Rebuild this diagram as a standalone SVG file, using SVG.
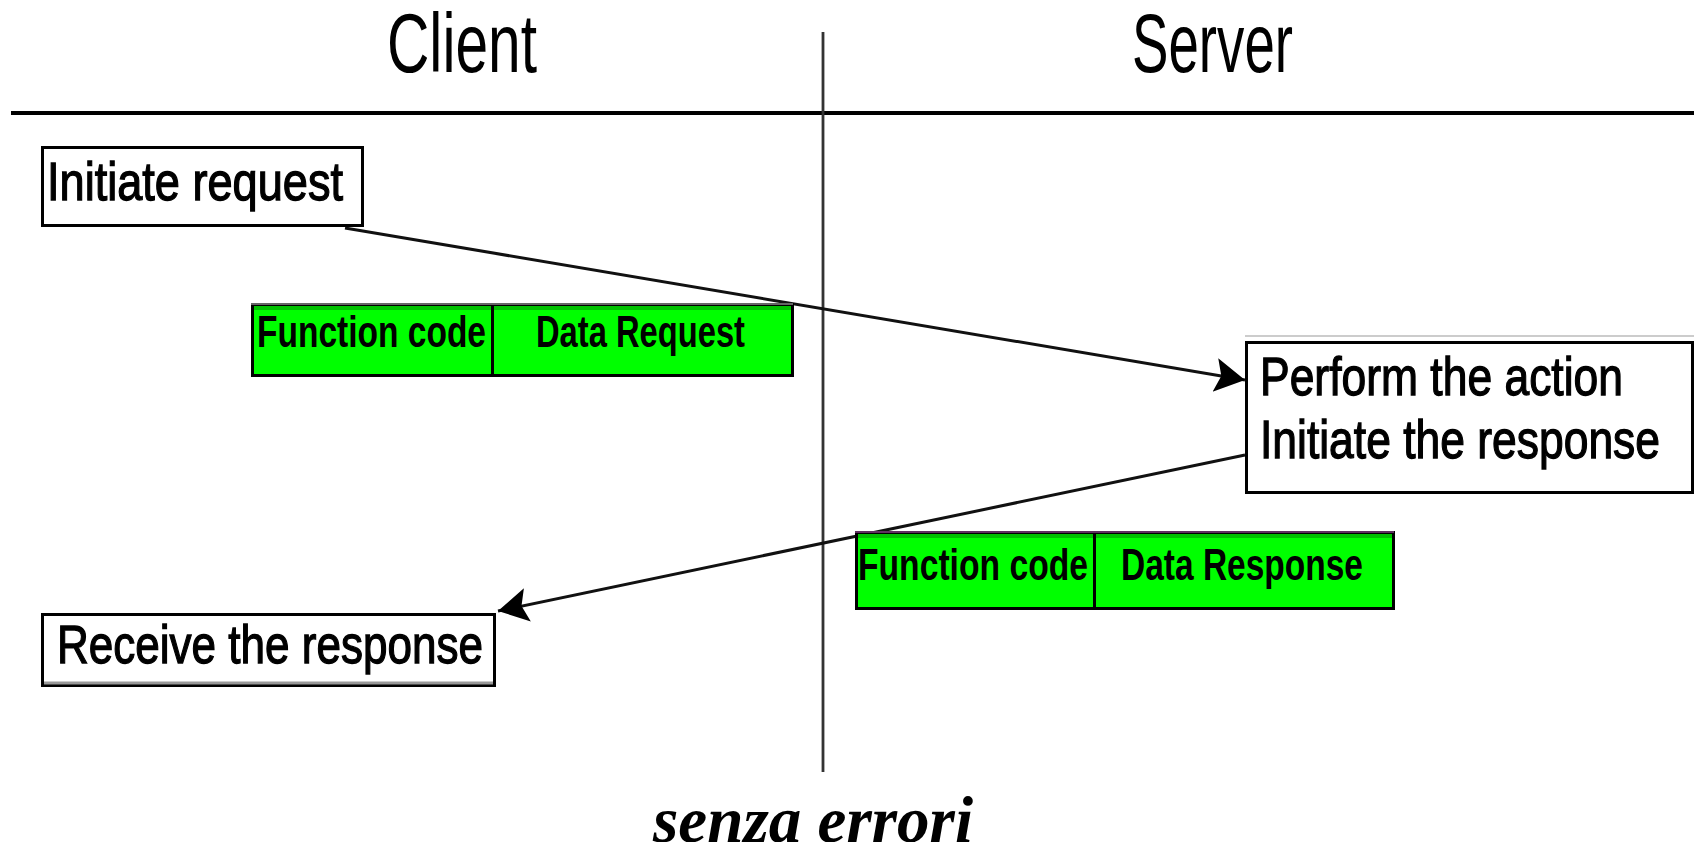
<svg xmlns="http://www.w3.org/2000/svg" width="1694" height="842" viewBox="0 0 1694 842">
<style>
  .lbl { font-family: "Liberation Sans", Arial, sans-serif; fill: #000; }
  .head { font-size: 84px; }
  .box { fill: #fff; stroke: #000; stroke-width: 3; }
  .boxtxt { font-size: 54px; stroke: #000; stroke-width: 1.3; }
  .green { fill: #00ff00; stroke: #000; stroke-width: 3; }
  .gtxt { font-size: 45px; font-weight: bold; }
  .conn { stroke: #111; stroke-width: 3; fill: none; }
</style>
<defs>
  <marker id="arrow" markerUnits="userSpaceOnUse" markerWidth="34" markerHeight="36" refX="30" refY="17" orient="auto">
    <path d="M0,0 L30,17 L0,34 L6,17 Z" fill="#000"/>
  </marker>
</defs>
<rect width="1694" height="842" fill="#fff"/>

<g id="lanes">
  <line x1="11" y1="113" x2="1694" y2="113" stroke="#000" stroke-width="4"/>
  <line x1="823" y1="32" x2="823" y2="772" stroke="#333" stroke-width="2.8"/>
  <text class="lbl head" x="387" y="72" textLength="150" lengthAdjust="spacingAndGlyphs">Client</text>
  <text class="lbl head" x="1132" y="72" textLength="161" lengthAdjust="spacingAndGlyphs">Server</text>
</g>

<g id="connectors">
  <line class="conn" x1="345" y1="228" x2="1245" y2="380" marker-end="url(#arrow)"/>
  <line class="conn" x1="1245" y1="455" x2="498" y2="611" marker-end="url(#arrow)"/>
</g>

<g id="initiate-request">
  <rect class="box" x="42.5" y="147.5" width="320" height="78"/>
  <text class="lbl boxtxt" x="47" y="200" font-size="52" textLength="296" lengthAdjust="spacingAndGlyphs">Initiate request</text>
</g>

<g id="request-pdu">
  <rect class="green" x="252.5" y="304.5" width="540" height="71"/>
  <rect x="254" y="306" width="537" height="4" fill="#00c000"/>
  <line x1="251" y1="304" x2="793" y2="304" stroke="#666" stroke-width="2"/>
  <line x1="492.5" y1="306" x2="492.5" y2="376" stroke="#000" stroke-width="3"/>
  <text class="lbl gtxt" x="257" y="347" textLength="229" lengthAdjust="spacingAndGlyphs">Function code</text>
  <text class="lbl gtxt" x="536" y="347" textLength="209" lengthAdjust="spacingAndGlyphs">Data Request</text>
</g>

<g id="server-action">
  <line x1="1245" y1="336" x2="1694" y2="336" stroke="#ccc" stroke-width="2"/>
  <rect class="box" x="1246.5" y="342.5" width="446" height="150"/>
  <text class="lbl boxtxt" x="1260" y="395" font-size="55" textLength="363" lengthAdjust="spacingAndGlyphs">Perform the action</text>
  <text class="lbl boxtxt" x="1260" y="458" textLength="400" lengthAdjust="spacingAndGlyphs">Initiate the response</text>
</g>

<g id="response-pdu">
  <rect class="green" x="856.5" y="532.5" width="537" height="76"/>
  <rect x="858" y="534" width="534" height="4" fill="#00c000"/>
  <line x1="855" y1="532" x2="1394" y2="532" stroke="#603060" stroke-width="2"/>
  <line x1="1094.5" y1="534" x2="1094.5" y2="609" stroke="#000" stroke-width="3"/>
  <text class="lbl gtxt" x="858" y="580" textLength="230" lengthAdjust="spacingAndGlyphs">Function code</text>
  <text class="lbl gtxt" x="1121" y="580" textLength="242" lengthAdjust="spacingAndGlyphs">Data Response</text>
</g>

<g id="receive-response">
  <rect class="box" x="42.5" y="614.5" width="452" height="71"/>
  <line x1="44" y1="683" x2="493" y2="683" stroke="#999" stroke-width="3"/>
  <text class="lbl boxtxt" x="57" y="663" font-size="55" textLength="426" lengthAdjust="spacingAndGlyphs">Receive the response</text>
</g>

<g id="caption">
  <text x="653" y="842" font-family="'Liberation Serif', 'Times New Roman', serif" font-weight="bold" font-style="italic" font-size="65" textLength="320" lengthAdjust="spacingAndGlyphs">senza errori</text>
</g>
</svg>
